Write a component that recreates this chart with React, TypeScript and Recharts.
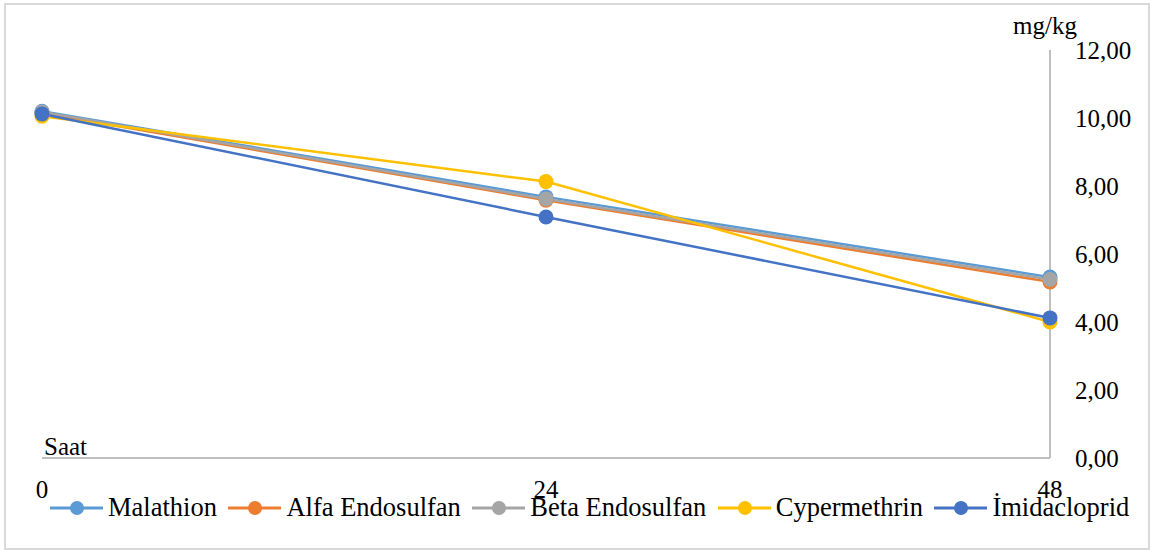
import { LineChart, Line, XAxis, YAxis, Legend, Label } from "recharts";

const hours = [0, 24, 48];
const yTicks = [0, 2, 4, 6, 8, 10, 12];

const malathion = [10.2, 7.68, 5.32];
const alfaEndosulfan = [10.15, 7.58, 5.18];
const betaEndosulfan = [10.18, 7.62, 5.25];
const cypermethrin = [10.05, 8.13, 4.0];
const imidacloprid = [10.12, 7.09, 4.12];

const series = [
  { key: "Malathion", values: malathion, color: "#5B9BD5" },
  { key: "Alfa Endosulfan", values: alfaEndosulfan, color: "#ED7D31" },
  { key: "Beta Endosulfan", values: betaEndosulfan, color: "#A5A5A5" },
  { key: "Cypermethrin", values: cypermethrin, color: "#FFC000" },
  { key: "İmidacloprid", values: imidacloprid, color: "#4472C4" },
];

const data = hours.map((h, i) => {
  const row: Record<string, number> = { saat: h };
  series.forEach((s) => (row[s.key] = s.values[i]));
  return row;
});

const FONT = "'Liberation Serif', 'Times New Roman', serif";

const fmt = (v: number) => v.toFixed(2).replace(".", ",");

function LegendRow() {
  return (
    <div style={{ display: "flex", alignItems: "center", fontFamily: FONT, fontSize: 26.5, color: "#000", whiteSpace: "nowrap" }}>
      {series.map((s) => (
        <div key={s.key} style={{ display: "flex", alignItems: "center", marginRight: 11.5 }}>
          <svg width={53} height={16} style={{ marginRight: 5 }}>
            <line x1={0} y1={8} x2={53} y2={8} stroke={s.color} strokeWidth={3} />
            <circle cx={27} cy={8} r={7} fill={s.color} />
          </svg>
          <span>{s.key}</span>
        </div>
      ))}
    </div>
  );
}

export default function App() {
  return (
    <div style={{ position: "absolute", left: 0, top: 0, width: 1154, height: 552, background: "#fff" }}>
      <div
        style={{
          position: "absolute",
          left: 4,
          top: 3,
          width: 1146,
          height: 547,
          border: "2px solid #d9d9d9",
          boxSizing: "border-box",
        }}
      />
      <LineChart width={1154} height={552} data={data} margin={{ top: 50, right: 0, left: 42, bottom: 0 }}>
        <XAxis
          dataKey="saat"
          type="number"
          domain={[0, 48]}
          ticks={hours}
          height={94}
          tickLine={false}
          tickSize={0}
          tickMargin={22}
          axisLine={{ stroke: "#bfbfbf", strokeWidth: 2 }}
          tick={{ fill: "#000", fontSize: 25, fontFamily: FONT }}
        >
          <Label
            content={(p: any) => (
              <text x={p.viewBox.x + 2} y={p.viewBox.y - 3} fontSize={25} fontFamily={FONT} fill="#000">
                Saat
              </text>
            )}
          />
        </XAxis>
        <YAxis
          orientation="right"
          width={104}
          domain={[0, 12]}
          ticks={yTicks}
          tickFormatter={fmt}
          tickLine={false}
          tickSize={0}
          tickMargin={25}
          axisLine={{ stroke: "#bfbfbf", strokeWidth: 2 }}
          tick={{ fill: "#000", fontSize: 25, fontFamily: FONT, textAnchor: "start" }}
        >
          <Label
            content={(p: any) => (
              <text x={p.viewBox.x - 37} y={p.viewBox.y - 16} fontSize={25} fontFamily={FONT} fill="#000">
                mg/kg
              </text>
            )}
          />
        </YAxis>
        <Legend
          layout="vertical"
          verticalAlign="middle"
          align="center"
          wrapperStyle={{ left: 50, top: 492, width: "auto" }}
          content={() => <LegendRow />}
        />
        {series.map((s) => (
          <Line
            key={s.key}
            dataKey={s.key}
            stroke={s.color}
            strokeWidth={2.5}
            dot={{ r: 7.5, fill: s.color, stroke: s.color, strokeWidth: 0 }}
            activeDot={false}
            isAnimationActive={false}
          />
        ))}
      </LineChart>
    </div>
  );
}
